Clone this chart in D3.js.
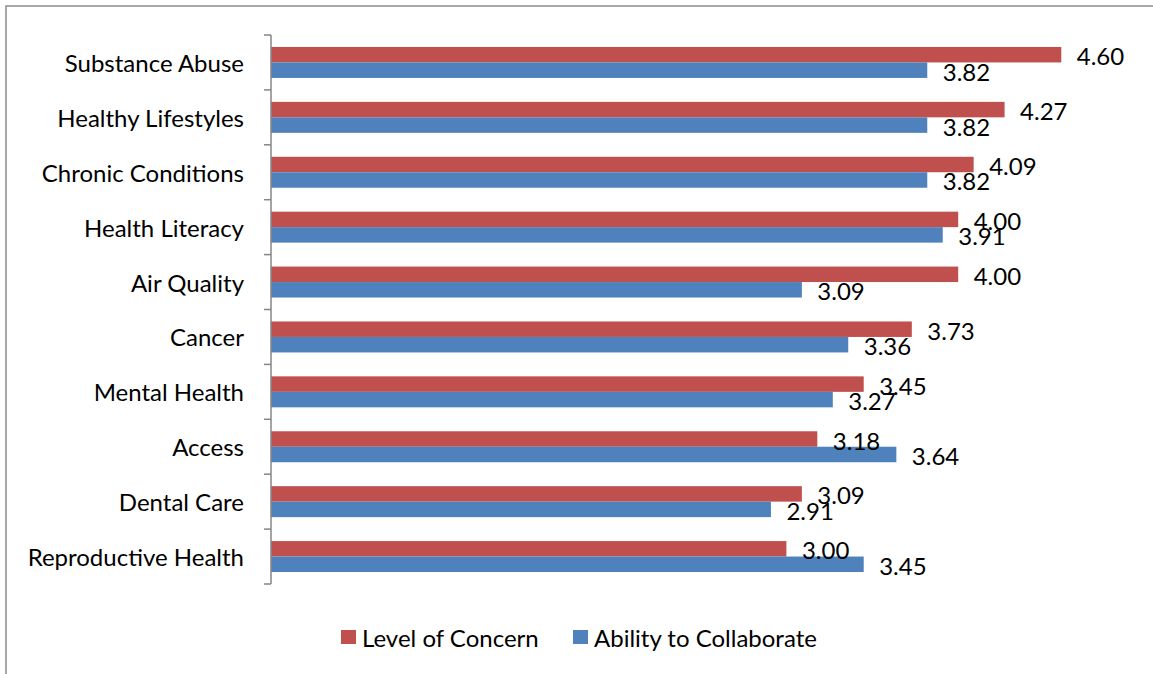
<!DOCTYPE html>
<html>
<head>
<meta charset="utf-8">
<script src="https://cdn.jsdelivr.net/npm/d3@7"></script>
<style>
  html, body { margin: 0; padding: 0; background: #fff; }
  svg { display: block; }
  text { font-family: Lato, "Open Sans", sans-serif; fill: #000; }
</style>
</head>
<body>
<svg id="chart" width="1153" height="674"></svg>
<script>
const categories = ["Substance Abuse", "Healthy Lifestyles", "Chronic Conditions", "Health Literacy", "Air Quality", "Cancer", "Mental Health", "Access", "Dental Care", "Reproductive Health"];
const seriesNames = ["Level of Concern", "Ability to Collaborate"];
const levelOfConcern = [4.60, 4.27, 4.09, 4.00, 4.00, 3.73, 3.45, 3.18, 3.09, 3.00];
const abilityToCollaborate = [3.82, 3.82, 3.82, 3.91, 3.09, 3.36, 3.27, 3.64, 2.91, 3.45];
const colors = ["#C0504D", "#4F81BD"];
const xDomain = [0, 5];

(function () {
const svg = d3.select("#chart");
const W = 1153, H = 674;
const fontSize = 24;

// outer border
svg.append("rect").attr("x", 6).attr("y", 6).attr("width", W + 10).attr("height", H + 10)
  .attr("fill", "none").attr("stroke", "#8c8c8c").attr("stroke-width", 1.5);

const x = d3.scaleLinear().domain(xDomain).range([271, 1130]);
const y = d3.scaleBand().domain(categories).range([35, 584]).paddingInner(0.436).paddingOuter(0.218);
const ySub = d3.scaleBand().domain(seriesNames).range([0, y.bandwidth()]);

const rows = categories.map((c, i) => ({ cat: c, vals: [levelOfConcern[i], abilityToCollaborate[i]] }));

const g = svg.append("g");
const rowG = g.selectAll("g.row").data(rows).enter().append("g")
  .attr("class", "row")
  .attr("transform", d => `translate(0,${y(d.cat)})`);

rowG.selectAll("rect").data(d => d.vals.map((v, k) => ({ v, k })))
  .enter().append("rect")
  .attr("x", x(0))
  .attr("y", d => ySub(seriesNames[d.k]))
  .attr("width", d => x(d.v) - x(0))
  .attr("height", ySub.bandwidth())
  .attr("fill", d => colors[d.k]);

rowG.selectAll("text.val").data(d => d.vals.map((v, k) => ({ v, k })))
  .enter().append("text")
  .attr("class", "val")
  .attr("x", d => x(d.v) + 15.5)
  .attr("y", d => ySub(seriesNames[d.k]) + ySub.bandwidth() / 2 + 1)
  .attr("dominant-baseline", "central")
  .style("font-size", fontSize + "px")
  .text(d => d.v.toFixed(2));

// category axis
const step = y.step();
const y0 = y.range()[0], y1 = y.range()[1];
const axisG = svg.append("g");
axisG.append("line").attr("x1", x(0)).attr("x2", x(0)).attr("y1", y0).attr("y2", y1)
  .attr("stroke", "#868686").attr("stroke-width", 1.5);
const boundaries = d3.range(categories.length + 1).map(i => y0 + i * step);
axisG.selectAll("line.tick").data(boundaries).enter().append("line")
  .attr("class", "tick")
  .attr("x1", x(0) - 7).attr("x2", x(0))
  .attr("y1", d => d).attr("y2", d => d)
  .attr("stroke", "#868686").attr("stroke-width", 1.5);
axisG.selectAll("text.cat").data(categories).enter().append("text")
  .attr("class", "cat")
  .attr("x", 244)
  .attr("y", d => y(d) + y.bandwidth() / 2)
  .attr("text-anchor", "end")
  .attr("dominant-baseline", "central")
  .style("font-size", fontSize + "px")
  .text(d => d);

// legend
const legendX = [341, 573];
const legend = svg.append("g");
seriesNames.forEach((s, k) => {
  legend.append("rect").attr("x", legendX[k]).attr("y", 630).attr("width", 15).attr("height", 14).attr("fill", colors[k]);
  legend.append("text").attr("x", legendX[k] + 21).attr("y", 637)
    .attr("dominant-baseline", "central").style("font-size", fontSize + "px").text(s);
});
})();
</script>
</body>
</html>
